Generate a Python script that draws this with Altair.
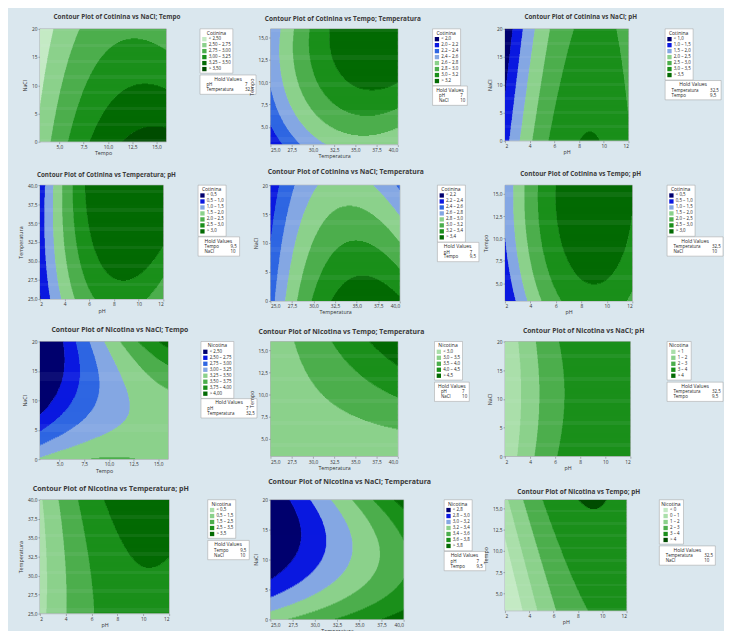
import numpy as np
import pandas as pd
import altair as alt

# ---------------- factor ranges and axis ticks ----------------
RANGE = {"Tempo": (3.0, 16.0), "NaCl": (0.0, 20.0), "Temperatura": (25.0, 40.0), "pH": (2.0, 12.0)}
TICKS = {"Tempo": [5.0, 7.5, 10.0, 12.5, 15.0], "NaCl": [0, 5, 10, 15, 20],
         "Temperatura": [25.0, 27.5, 30.0, 32.5, 35.0, 37.5, 40.0], "pH": [2, 4, 6, 8, 10, 12]}
TICK_FMT = {"Tempo": ".1f", "NaCl": "d", "Temperatura": ".1f", "pH": "d"}

# ---------------- the twelve panels ----------------
RESPONSE = ["Cotinina"] * 6 + ["Nicotina"] * 6
XVAR = ["Tempo", "Temperatura", "pH", "pH", "Temperatura", "pH"] * 2
YVAR = ["NaCl", "Tempo", "NaCl", "Temperatura", "NaCl", "Tempo"] * 2

# contour levels shown in each legend
LEVELS = [
    [2.50, 2.75, 3.00, 3.25, 3.50],
    [2.0, 2.2, 2.4, 2.6, 2.8, 3.0, 3.2],
    [1.0, 1.5, 2.0, 2.5, 3.0, 3.5],
    [0.5, 1.0, 1.5, 2.0, 2.5, 3.0],
    [2.2, 2.4, 2.6, 2.8, 3.0, 3.2, 3.4],
    [0.5, 1.0, 1.5, 2.0, 2.5, 3.0],
    [2.50, 2.75, 3.00, 3.25, 3.50, 3.75, 4.00],
    [3.0, 3.5, 4.0, 4.5],
    [1, 2, 3, 4],
    [0.5, 1.5, 2.5, 3.5],
    [2.8, 3.0, 3.2, 3.4, 3.6, 3.8],
    [0, 1, 2, 3, 4],
]
LEVEL_DEC = [2, 1, 1, 1, 1, 1, 2, 1, 0, 1, 1, 0]

# fitted quadratic response surfaces, coded units (-1..1), in contour steps above the first level
# order: const, x, y, x^2, y^2, x*y
SURFACE = [
    [2.52, 1.55, -0.97, -1.165, 0.0, -0.485],
    [5.53, 1.93, 1.5, -1.6, -0.844, 0.533],
    [4.256, 1.992, -0.482, -2.4, 0.0, 0.216],
    [5.42, 2.35, 0.9, -2.67, -0.3, 0.7],
    [4.82, 1.518, -1.402, -2.3, -0.066, -0.782],
    [5.25, 1.92, 0.614, -2.4, -0.384, 0.0],
    [2.25, 2.2, -0.55, -0.76, 1.3, 2.0],
    [1.1, 0.86, 0.97, 0.0, 0.0, 0.84],
    [2.1, 1.83, -0.035, -1.34, 0.215, 0.0],
    [2.5, 1.71, 0.38, -1.2, 0.14, 0.28],
    [1.53, 2.31, -0.893, 0.0, 1.654, 0.89],
    [3.085, 1.824, 0.692, -1.6, 0.0, -0.416],
]

HOLD = [
    [("pH", "7"), ("Temperatura", "32,5")],
    [("pH", "7"), ("NaCl", "10")],
    [("Temperatura", "32,5"), ("Tempo", "9,5")],
    [("Tempo", "9,5"), ("NaCl", "10")],
    [("pH", "7"), ("Tempo", "9,5")],
    [("Temperatura", "32,5"), ("NaCl", "10")],
    [("pH", "7"), ("Temperatura", "32,5")],
    [("pH", "7"), ("NaCl", "10")],
    [("Temperatura", "32,5"), ("Tempo", "9,5")],
    [("Tempo", "9,5"), ("NaCl", "10")],
    [("pH", "7"), ("Tempo", "9,5")],
    [("Temperatura", "32,5"), ("NaCl", "10")],
]

# ---------------- colours ----------------
PAL = {"navy": "#00006e", "blue": "#0a18e0", "mblue": "#2e66e2", "lblue": "#84a7e3",
       "vpale": "#c4eac4", "pale": "#aadfaa", "lgreen": "#8bd18b", "mgreen": "#4cae4c",
       "green": "#1a8f1a", "dgreen": "#036a03", "ddgreen": "#004c00"}
C8 = ["navy", "blue", "mblue", "lblue", "lgreen", "mgreen", "green", "dgreen"]
C7 = ["navy", "blue", "lblue", "lgreen", "mgreen", "green", "dgreen"]
C6 = ["vpale", "lgreen", "mgreen", "green", "dgreen", "ddgreen"]
C6B = ["vpale", "pale", "lgreen", "mgreen", "green", "ddgreen"]
C5 = ["pale", "lgreen", "mgreen", "green", "dgreen"]
BAND_COLORS = [C6, C8, C7, C7, C8, C7, C8, C5, C5, C5, C7, C6B]

# ---------------- layout (plot areas, px) ----------------
W = [131, 132, 128, 128, 134, 132, 133, 132, 130, 134, 138, 126]
H = [117, 120, 116, 118, 120, 120, 122, 119, 119, 118, 124, 115]
LEG_OFF = [35, 36, 38, 36, 39, 36, 34, 38, 38, 40, 42, 34]
T_SIZE = [6.6, 6.7, 6.5, 6.5, 7.0, 6.6, 7.1, 7.1, 7.0, 7.3, 7.3, 6.7]
T_OFF = [6.5, 6.5, 6.5, 4.5, 8.5, 7.5, 6.5, 6.5, 5.5, 5.5, 12.5, 4.5]
T_DX = [14.5, 9, 14.5, 5, 11, 12.5, 16.5, 7.5, 16.5, 6.5, 13, 13.5]

FONT = "Open Sans, DejaVu Sans, sans-serif"

# legend metrics
LEG_PAD = 2.0
LEG_TITLE = 5.2
LEG_TITLE_PAD = 1.0
LEG_LABEL = 4.6
ROW_PAD = 0.2


def fmtnum(v, d):
    return f"{v:.{d}f}".replace(".", ",")


def pad(s):
    table = {ord(ch): "\u2007" for ch in "0123456789"}
    table[ord(",")] = "\u2008"
    return s.translate(table)


def band_labels(k):
    s = [fmtnum(v, LEVEL_DEC[k]) for v in LEVELS[k]]
    out = [pad(s[0]) + " < " + s[0]]
    out += [f"{s[i]} \u2013 {s[i + 1]}" for i in range(len(s) - 1)]
    out += [pad(s[-1]) + " > " + s[-1]]
    return out


def surface_runs(k):
    xv, yv = XVAR[k], YVAR[k]
    (xa, xb), (ya, yb) = RANGE[xv], RANGE[yv]
    lev = np.array(LEVELS[k], float)
    step = lev[1] - lev[0]
    c = SURFACE[k]
    nx, ny = 320, 120
    ue = np.linspace(-1, 1, nx + 1)
    ve = np.linspace(-1, 1, ny + 1)
    uc = (ue[:-1] + ue[1:]) / 2
    vc = (ve[:-1] + ve[1:]) / 2
    U, V = np.meshgrid(uc, vc)
    P = c[0] + c[1] * U + c[2] * V + c[3] * U ** 2 + c[4] * V ** 2 + c[5] * U * V
    Z = lev[0] + step * P
    B = np.digitize(Z, lev)
    labels = band_labels(k)
    xs = xa + (ue + 1) / 2 * (xb - xa)
    ys = ya + (ve + 1) / 2 * (yb - ya)
    dx, dy = xs[1] - xs[0], ys[1] - ys[0]
    rows = []
    for j in range(ny):
        b = B[j]
        cuts = np.flatnonzero(np.diff(b)) + 1
        starts = np.r_[0, cuts]
        ends = np.r_[cuts, nx]
        for s, e in zip(starts, ends):
            rows.append((xs[s], min(xs[e] + 0.4 * dx, xb), ys[j], min(ys[j + 1] + 0.6 * dy, yb), labels[b[s]]))
    return pd.DataFrame(rows, columns=["x0", "x1", "y0", "y1", "band"])


def axis(var):
    return alt.Axis(title=var, values=TICKS[var], format=TICK_FMT[var],
                    labelExpr="replace(datum.label, '.', ',')")


def panel(k):
    xv, yv = XVAR[k], YVAR[k]
    labels = band_labels(k)
    cols = [PAL[n] for n in BAND_COLORS[k]]
    n = len(labels)
    leg_h = (2 * LEG_PAD + 1.2 * LEG_TITLE + LEG_TITLE_PAD + n * 1.2 * LEG_LABEL
             + (n - 1) * ROW_PAD + 0.5)
    lx = W[k] + LEG_OFF[k]
    contour = alt.Chart(surface_runs(k)).mark_rect(clip=True).encode(
        x=alt.X("x0:Q", scale=alt.Scale(domain=list(RANGE[xv]), nice=False, zero=False), axis=axis(xv)),
        x2="x1",
        y=alt.Y("y0:Q", scale=alt.Scale(domain=list(RANGE[yv]), nice=False, zero=False), axis=axis(yv)),
        y2="y1",
        color=alt.Color("band:N", sort=labels, scale=alt.Scale(domain=labels, range=cols),
                        legend=alt.Legend(title=RESPONSE[k], orient="none", legendX=lx, legendY=0)),
    )
    names = [p[0] for p in HOLD[k]]
    vals = [p[1] for p in HOLD[k]]
    hv = names + vals
    hold = alt.Chart(pd.DataFrame({"hv": hv})).mark_point(opacity=0).encode(
        shape=alt.Shape("hv:N", sort=hv, scale=alt.Scale(domain=hv),
                        legend=alt.Legend(title="Hold Values", orient="none", legendX=lx,
                                          legendY=leg_h + 2, columns=2, symbolSize=0,
                                          symbolOpacity=0, labelOffset=0, columnPadding=7))
    )
    title = alt.TitleParams(f"Contour Plot of {RESPONSE[k]} vs {yv}; {xv}", fontSize=T_SIZE[k],
                            fontWeight="bold", color="#3a3a3a", offset=T_OFF[k], dx=T_DX[k],
                            anchor="middle", font=FONT)
    return alt.layer(contour, hold).properties(width=W[k], height=H[k], title=title)


grid = alt.concat(*[panel(k) for k in range(12)], columns=3,
                  spacing={"row": 42, "column": 105}, bounds="flush").resolve_scale(
    color="independent", shape="independent").resolve_legend(color="independent", shape="independent")

chart = grid.properties(
    padding={"left": 10, "top": -6, "right": 0, "bottom": 0}
).configure(
    background="#dae7ee", font=FONT
).configure_view(
    stroke="#8c8c8c", strokeWidth=0.6
).configure_axis(
    labelFontSize=5, titleFontSize=5.5, tickSize=2, tickWidth=0.5, labelPadding=1,
    domain=False, grid=False, labelColor="#333333", titleColor="#333333", tickColor="#666666",
    titleFontWeight="normal", labelFont=FONT, titleFont=FONT
).configure_axisX(titlePadding=1.5).configure_axisY(titlePadding=4).configure_legend(
    fillColor="white", strokeColor="#9a9a9a", strokeWidth=0.5, padding=LEG_PAD, cornerRadius=0,
    titleFontSize=LEG_TITLE, titleFontWeight="normal", titleColor="#222222", titleAnchor="middle",
    titlePadding=LEG_TITLE_PAD, labelFontSize=LEG_LABEL, labelColor="#222222", labelOffset=2,
    symbolType="square", symbolSize=20, symbolStrokeWidth=0, rowPadding=ROW_PAD, labelLimit=300,
    titleFont=FONT, labelFont=FONT
)

chart.save("out.html", embed_options={"renderer": "svg", "actions": False})
